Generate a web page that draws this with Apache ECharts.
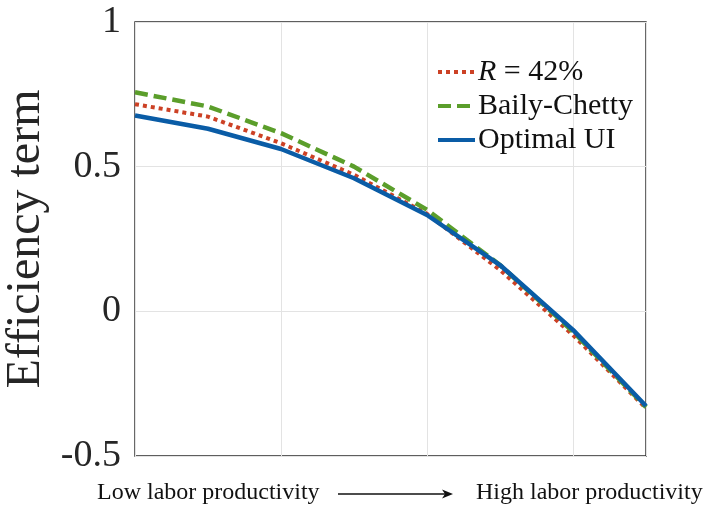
<!DOCTYPE html>
<html>
<head>
<meta charset="utf-8">
<script src="https://cdn.jsdelivr.net/npm/echarts@6/dist/echarts.min.js"></script>
<style>html,body{margin:0;padding:0;background:#fff;}#c{width:708px;height:508px;}</style>
</head>
<body>
<div id="c"></div>
<script>
var xPoints = [0, 1, 2, 3, 4, 5, 6, 7];
var r42 = [0.716, 0.673, 0.581, 0.472, 0.337, 0.143, -0.082, -0.335];
var bailyChetty = [0.757, 0.708, 0.616, 0.500, 0.351, 0.160, -0.070, -0.331];
var optimalUI = [0.677, 0.631, 0.561, 0.460, 0.333, 0.160, -0.064, -0.327];
var yTicks = [-0.5, 0, 0.5, 1];
var seriesNames = ['R = 42%', 'Baily-Chetty', 'Optimal UI'];

function pairs(v) { return xPoints.map(function (x, i) { return [x, v[i]]; }); }

var serif = '"Liberation Serif", "DejaVu Serif", serif';
var chart = echarts.init(document.getElementById('c'), null, {renderer: 'canvas'});
chart.setOption({
  animation: false,
  grid: {left: 135, right: 62, top: 22, bottom: 52, show: true, borderColor: '#2a2a2a', borderWidth: 1.4,
    backgroundColor: 'transparent', containLabel: false, outerBoundsMode: 'none'},
  xAxis: {
    type: 'value', min: 0, max: 7, interval: 2,
    axisLabel: {show: false}, axisTick: {show: false},
    axisLine: {show: false},
    splitLine: {show: true, lineStyle: {color: '#e3e3e3', width: 1}}
  },
  yAxis: {
    type: 'value', min: yTicks[0], max: yTicks[yTicks.length - 1], interval: 0.5,
    name: 'Efficiency term', nameLocation: 'middle', nameGap: 84, nameRotate: 90,
    nameTextStyle: {fontFamily: serif, fontSize: 48, color: '#262626'},
    axisLabel: {fontFamily: serif, fontSize: 38, color: '#262626', margin: 14,
      formatter: function (v) { return String(v); }},
    axisTick: {show: false}, axisLine: {show: false},
    splitLine: {show: true, lineStyle: {color: '#e3e3e3', width: 1}}
  },
  legend: {
    orient: 'vertical', left: 431, top: 52, itemWidth: 37, itemHeight: 14, itemGap: 4,
    data: seriesNames,
    itemStyle: {opacity: 0, borderWidth: 0},
    lineStyle: {width: 4},
    textStyle: {fontFamily: serif, fontSize: 30, color: '#111', padding: [0, 0, 0, -2],
      rich: {i: {fontFamily: serif, fontStyle: 'italic', fontSize: 30, color: '#111'}}},
    formatter: function (n) { return n === 'R = 42%' ? '{i|R} = 42%' : n; }
  },
  series: [
    {name: seriesNames[0], type: 'line', data: pairs(r42), symbol: 'none', z: 2,
      lineStyle: {color: '#cc4125', width: 4, type: [4, 4]}, itemStyle: {color: '#cc4125'}},
    {name: seriesNames[1], type: 'line', data: pairs(bailyChetty), symbol: 'none', z: 3,
      lineStyle: {color: '#5b9e2b', width: 4.5, type: [13, 6]}, itemStyle: {color: '#5b9e2b'}},
    {name: seriesNames[2], type: 'line', data: pairs(optimalUI), symbol: 'none', z: 4,
      lineStyle: {color: '#0a5ca6', width: 4.5, type: 'solid'}, itemStyle: {color: '#0a5ca6'}}
  ],
  graphic: [
    {type: 'text', left: 97, top: 481, style: {text: 'Low labor productivity', font: '24px ' + serif, fill: '#111'}},
    {type: 'line', shape: {x1: 338, y1: 494, x2: 448, y2: 494}, style: {stroke: '#111', lineWidth: 1.5}},
    {type: 'polygon', shape: {points: [[453, 494], [442, 489.5], [445, 494], [442, 498.5]]}, style: {fill: '#111'}},
    {type: 'text', left: 476, top: 481, style: {text: 'High labor productivity', font: '24px ' + serif, fill: '#111'}}
  ]
});
</script>
</body>
</html>
